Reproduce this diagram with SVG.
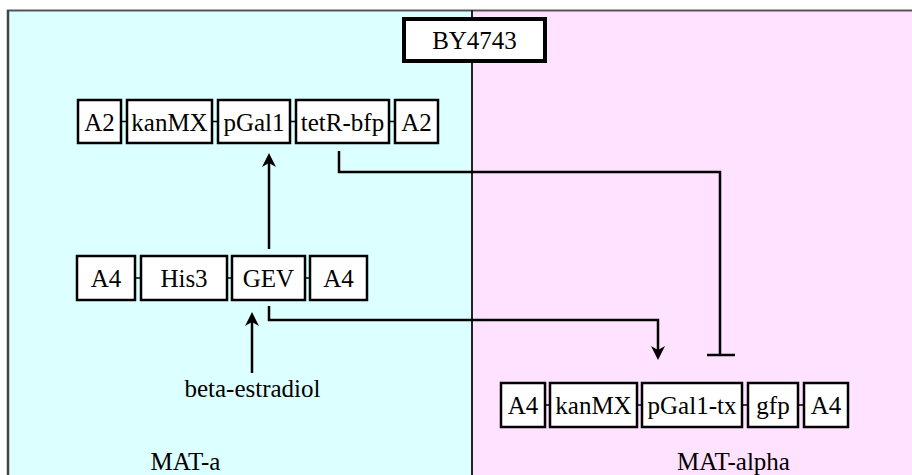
<svg xmlns="http://www.w3.org/2000/svg" width="912" height="475" viewBox="0 0 912 475">
<style>
.box{fill:#fff;stroke:#000;stroke-width:2.5}
.bb{stroke:#000;stroke-width:1.5}
.t{font-family:"Liberation Serif","Times New Roman",serif;font-size:25px;fill:#000;text-anchor:middle}
.c{fill:none;stroke:#000;stroke-width:2.5}
</style>
<defs>
<marker id="arr" viewBox="0 0 14 14" refX="10" refY="7" markerWidth="14" markerHeight="14" markerUnits="userSpaceOnUse" orient="auto">
<path d="M0,0 L14,7 L0,14 L4,7 Z" fill="#000"/>
</marker>
</defs>
<g id="background">
<rect x="8" y="10" width="464" height="470" fill="#DCFFFF"/>
<rect x="472" y="10" width="445" height="470" fill="#FFE2FF"/>
<line x1="7" y1="10.5" x2="912" y2="10.5" stroke="#555" stroke-width="2"/>
<line x1="8" y1="10" x2="8" y2="475" stroke="#444" stroke-width="2.5"/>
<line x1="472" y1="10" x2="472" y2="475" stroke="#222" stroke-width="2"/>
</g>
<g id="labels">
<text class="t" x="185.5" y="470">MAT-a</text>
<text class="t" x="733.5" y="470">MAT-alpha</text>
<text class="t" x="252.5" y="397">beta-estradiol</text>
</g>
<g id="BY4743">
<rect x="404" y="19" width="141" height="42" fill="#fff" stroke="#000" stroke-width="4"/>
<text class="t" x="474.5" y="49">BY4743</text>
</g>
<g id="construct1">
<line class="bb" x1="100" y1="121.5" x2="416" y2="121.5"/>
<g id="c1-A2a"><rect class="box" x="78" y="100" width="43" height="43"/><text class="t" x="99.5" y="131">A2</text></g>
<g id="c1-kanMX"><rect class="box" x="127" y="100" width="85" height="43"/><text class="t" x="169.5" y="131">kanMX</text></g>
<g id="c1-pGal1"><rect class="box" x="218" y="100" width="72" height="43"/><text class="t" x="254" y="131">pGal1</text></g>
<g id="c1-tetR-bfp"><rect class="box" x="296" y="100" width="93" height="43"/><text class="t" x="342.5" y="131">tetR-bfp</text></g>
<g id="c1-A2b"><rect class="box" x="395" y="100" width="43" height="43"/><text class="t" x="416.5" y="131">A2</text></g>
</g>
<g id="construct2">
<line class="bb" x1="106" y1="278" x2="338" y2="278"/>
<g id="c2-A4a"><rect class="box" x="77" y="256" width="58" height="44"/><text class="t" x="106" y="287">A4</text></g>
<g id="c2-His3"><rect class="box" x="141" y="256" width="86" height="44"/><text class="t" x="184" y="287">His3</text></g>
<g id="c2-GEV"><rect class="box" x="232" y="256" width="73" height="44"/><text class="t" x="268.5" y="287">GEV</text></g>
<g id="c2-A4b"><rect class="box" x="310" y="256" width="57" height="44"/><text class="t" x="338.5" y="287">A4</text></g>
</g>
<g id="construct3">
<line class="bb" x1="523" y1="405" x2="826" y2="405"/>
<g id="c3-A4a"><rect class="box" x="501" y="383" width="44" height="44"/><text class="t" x="523" y="414">A4</text></g>
<g id="c3-kanMX"><rect class="box" x="550" y="383" width="87" height="44"/><text class="t" x="593.5" y="414">kanMX</text></g>
<g id="c3-pGal1-tx"><rect class="box" x="642" y="383" width="100" height="44"/><text class="t" x="692" y="414">pGal1-tx</text></g>
<g id="c3-gfp"><rect class="box" x="748" y="383" width="50" height="44"/><text class="t" x="773" y="414">gfp</text></g>
<g id="c3-A4b"><rect class="box" x="804" y="383" width="44" height="44"/><text class="t" x="826" y="414">A4</text></g>
</g>
<g id="connectors">
<line class="c" x1="269" y1="249" x2="269" y2="157" marker-end="url(#arr)"/>
<polyline class="c" points="339,151 339,172 720,172 720,355"/>
<line class="c" x1="707" y1="355" x2="735" y2="355"/>
<polyline class="c" points="269,306 269,320 658,320 658,356" marker-end="url(#arr)"/>
<line class="c" x1="252" y1="373" x2="252" y2="316" marker-end="url(#arr)"/>
</g>
</svg>
